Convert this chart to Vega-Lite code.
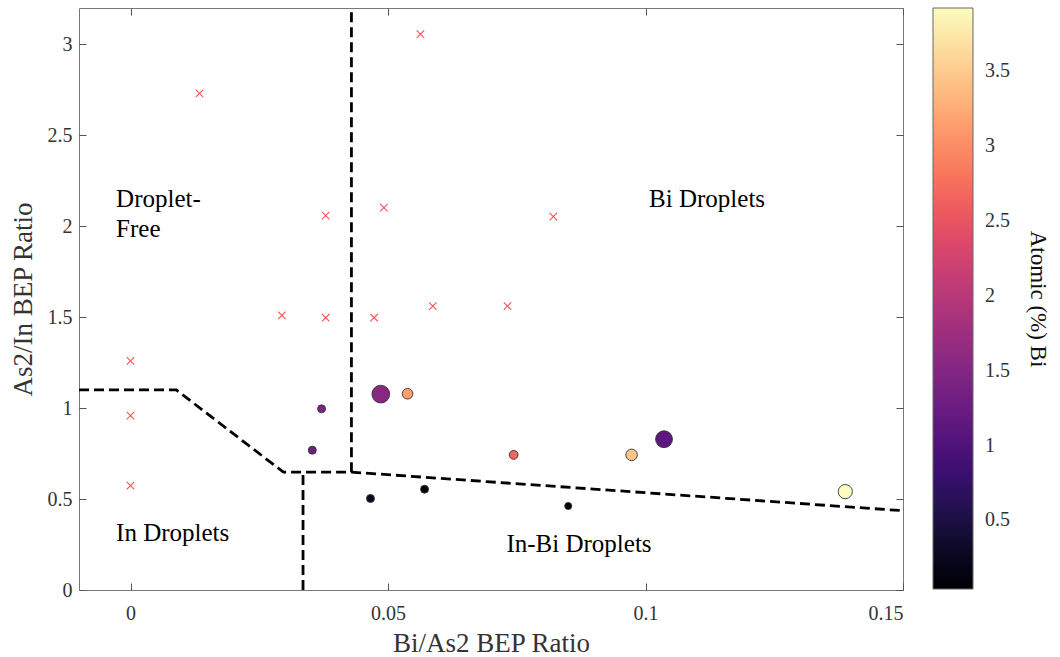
{
  "$schema": "https://vega.github.io/schema/vega-lite/v6.json",
  "width": 824,
  "height": 582,
  "autosize": {"type": "none"},
  "padding": {"left": 79, "top": 8, "right": 157, "bottom": 67},
  "background": "white",
  "config": {
    "view": {"stroke": "#777", "strokeWidth": 1},
    "font": "Liberation Serif",
    "axis": {
      "domain": false,
      "grid": false,
      "tickColor": "#555",
      "tickSize": -7,
      "labelFont": "Liberation Serif",
      "labelFontSize": 20,
      "labelColor": "#333",
      "titleFont": "Liberation Serif",
      "titleFontSize": 27,
      "titleFontWeight": "normal",
      "titleColor": "#333"
    }
  },
  "datasets": {
    "bounds": [
      {"seg": "A", "o": 1, "x": -0.01, "y": 1.10},
      {"seg": "A", "o": 2, "x": 0.0089, "y": 1.10},
      {"seg": "A", "o": 3, "x": 0.0297, "y": 0.648},
      {"seg": "A", "o": 4, "x": 0.0429, "y": 0.648},
      {"seg": "A", "o": 5, "x": 0.15, "y": 0.436},
      {"seg": "B", "o": 1, "x": 0.0429, "y": 0.648},
      {"seg": "B", "o": 2, "x": 0.0429, "y": 3.19},
      {"seg": "C", "o": 1, "x": 0.0335, "y": 0.0},
      {"seg": "C", "o": 2, "x": 0.0335, "y": 0.645}
    ],
    "nodrop": [
      {"ratio_bi_as": 0.0134, "ratio_as_in": 2.731},
      {"ratio_bi_as": 0.0563, "ratio_as_in": 3.056},
      {"ratio_bi_as": 0.0379, "ratio_as_in": 2.058},
      {"ratio_bi_as": 0.0492, "ratio_as_in": 2.102},
      {"ratio_bi_as": 0.0821, "ratio_as_in": 2.053},
      {"ratio_bi_as": 0.0294, "ratio_as_in": 1.510},
      {"ratio_bi_as": 0.0379, "ratio_as_in": 1.497},
      {"ratio_bi_as": 0.0473, "ratio_as_in": 1.497},
      {"ratio_bi_as": 0.0587, "ratio_as_in": 1.561},
      {"ratio_bi_as": 0.0732, "ratio_as_in": 1.561},
      {"ratio_bi_as": 0.0, "ratio_as_in": 1.260},
      {"ratio_bi_as": 0.0, "ratio_as_in": 0.959},
      {"ratio_bi_as": 0.0, "ratio_as_in": 0.574}
    ],
    "samples": [
      {"ratio_bi_as": 0.0486, "ratio_as_in": 1.077, "bi": 1.55, "droplet": 20},
      {"ratio_bi_as": 0.0538, "ratio_as_in": 1.079, "bi": 3.14, "droplet": 12},
      {"ratio_bi_as": 0.0371, "ratio_as_in": 0.996, "bi": 1.44, "droplet": 9},
      {"ratio_bi_as": 0.0353, "ratio_as_in": 0.769, "bi": 1.32, "droplet": 9},
      {"ratio_bi_as": 0.0466, "ratio_as_in": 0.503, "bi": 0.25, "droplet": 9},
      {"ratio_bi_as": 0.0571, "ratio_as_in": 0.554, "bi": 0.1, "droplet": 9},
      {"ratio_bi_as": 0.0744, "ratio_as_in": 0.743, "bi": 2.68, "droplet": 10},
      {"ratio_bi_as": 0.0973, "ratio_as_in": 0.743, "bi": 3.45, "droplet": 13},
      {"ratio_bi_as": 0.1036, "ratio_as_in": 0.829, "bi": 1.13, "droplet": 19},
      {"ratio_bi_as": 0.0850, "ratio_as_in": 0.462, "bi": 0.05, "droplet": 8},
      {"ratio_bi_as": 0.1388, "ratio_as_in": 0.541, "bi": 3.918, "droplet": 16}
    ],
    "labels": [
      {"x": -0.0028, "y": 2.106, "t": "Droplet-"},
      {"x": -0.0028, "y": 1.941, "t": "Free"},
      {"x": 0.1007, "y": 2.106, "t": "Bi Droplets"},
      {"x": -0.0028, "y": 0.271, "t": "In Droplets"},
      {"x": 0.0730, "y": 0.211, "t": "In-Bi Droplets"}
    ]
  },
  "layer": [
    {
      "data": {"name": "bounds"},
      "mark": {"type": "line", "color": "black", "strokeWidth": 2.8, "strokeDash": [10, 5]},
      "encoding": {
        "x": {"field": "x", "type": "quantitative",
              "scale": {"domain": [-0.01, 0.15], "nice": false, "zero": false},
              "axis": {"orient": "bottom", "values": [0, 0.05, 0.1, 0.15],
                       "labelExpr": "'' + datum.value",
                       "title": "Bi/As2 BEP Ratio", "labelPadding": 20, "titlePadding": 7}},
        "y": {"field": "y", "type": "quantitative",
              "scale": {"domain": [0, 3.2], "nice": false, "zero": false},
              "axis": {"orient": "left", "values": [0, 0.5, 1, 1.5, 2, 2.5, 3],
                       "labelExpr": "'' + datum.value",
                       "title": "As2/In BEP Ratio", "labelPadding": 14, "titlePadding": 10}},
        "detail": {"field": "seg"},
        "order": {"field": "o"}
      }
    },
    {
      "data": {"name": "nodrop"},
      "mark": {"type": "point", "shape": "M-1,-1L1,1M-1,1L1,-1", "filled": false,
               "stroke": "#ff3333", "strokeWidth": 1.1, "opacity": 0.85, "size": 56},
      "encoding": {
        "x": {"field": "ratio_bi_as", "type": "quantitative",
              "scale": {"domain": [-0.01, 0.15], "nice": false, "zero": false},
              "axis": {"orient": "top", "values": [0, 0.05, 0.1, 0.15], "labels": false, "title": null}},
        "y": {"field": "ratio_as_in", "type": "quantitative",
              "scale": {"domain": [0, 3.2], "nice": false, "zero": false},
              "axis": {"orient": "right", "values": [0, 0.5, 1, 1.5, 2, 2.5, 3], "labels": false, "title": null}}
      }
    },
    {
      "data": {"name": "samples"},
      "mark": {"type": "circle", "opacity": 1, "stroke": "#333", "strokeWidth": 0.9},
      "encoding": {
        "x": {"field": "ratio_bi_as", "type": "quantitative",
              "scale": {"domain": [-0.01, 0.15], "nice": false, "zero": false}, "axis": null},
        "y": {"field": "ratio_as_in", "type": "quantitative",
              "scale": {"domain": [0, 3.2], "nice": false, "zero": false}, "axis": null},
        "color": {"field": "bi", "type": "quantitative",
                  "scale": {"scheme": "magma", "domain": [0.043, 3.918]},
                  "legend": {"orient": "right", "offset": 24, "padding": 0,
                             "gradientLength": 581, "gradientThickness": 40,
                             "gradientStrokeColor": "#666", "gradientStrokeWidth": 1,
                             "values": [0.5, 1, 1.5, 2, 2.5, 3, 3.5], "format": "~g",
                             "labelFont": "Liberation Serif", "labelFontSize": 20, "labelColor": "#333",
                             "labelOffset": 12,
                             "title": "Atomic (%) Bi", "titleOrient": "right", "titleAngle": 90,
                             "titleFont": "Liberation Serif", "titleFontSize": 23,
                             "titleFontWeight": "normal", "titleColor": "#111",
                             "titlePadding": 16, "titleAnchor": "middle"}},
        "size": {"field": "droplet", "type": "quantitative",
                 "scale": {"type": "pow", "exponent": 2, "domain": [0, 20], "range": [0, 314]},
                 "legend": null}
      }
    },
    {
      "data": {"name": "labels"},
      "mark": {"type": "text", "align": "left", "baseline": "alphabetic",
               "font": "Liberation Serif", "fontSize": 25, "color": "black"},
      "encoding": {
        "x": {"field": "x", "type": "quantitative",
              "scale": {"domain": [-0.01, 0.15], "nice": false, "zero": false}, "axis": null},
        "y": {"field": "y", "type": "quantitative",
              "scale": {"domain": [0, 3.2], "nice": false, "zero": false}, "axis": null},
        "text": {"field": "t"}
      }
    }
  ],
  "resolve": {"axis": {"x": "independent", "y": "independent"}}
}
